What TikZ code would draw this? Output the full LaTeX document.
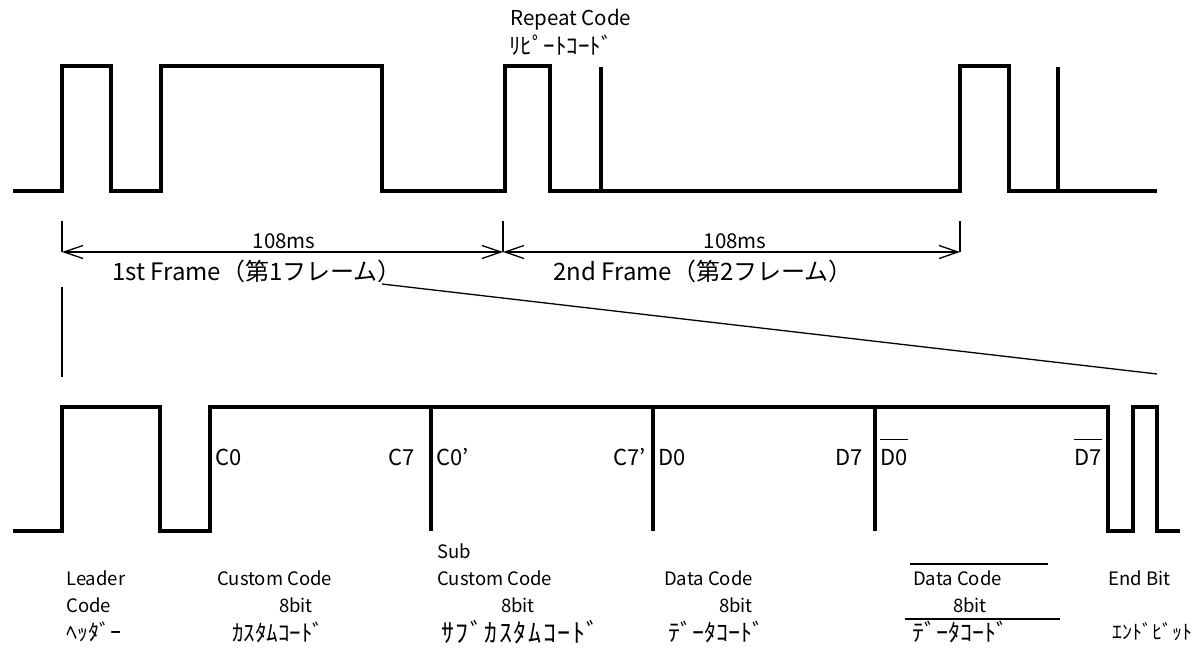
\documentclass[tikz,border=0pt]{standalone}
\usepackage{fontspec}
\newfontfamily\jp{Noto Sans CJK JP}
\newfontfamily\jpwide[LetterSpace=6]{Noto Sans CJK JP}
\usetikzlibrary{arrows.meta}

\begin{document}
\begin{tikzpicture}[
x=1pt, y=-1pt,
sig/.style={line width=4pt},
dimline/.style={line width=1.3pt},
toplbl/.style={font=\jp\fontsize{20.5}{20.5}\selectfont, inner sep=0pt},
framelbl/.style={font=\jp\fontsize{24}{24}\selectfont, inner sep=0pt},
bitlbl/.style={font=\jp\fontsize{22}{22}\selectfont, inner sep=0pt},
lbl/.style={font=\jp\fontsize{18.5}{18.5}\selectfont, inner sep=0pt, anchor=west},
>={Straight Barb[length=19pt,width=13pt]}
]
\useasboundingbox (0,0) rectangle (1202,656);

\def\hi{66}
\def\lo{191}
\def\bhi{407}
\def\blo{531}

%%% upper train
\draw[sig] (13,\lo) -| (62,\hi) -| (111,\lo) -| (161,\hi) -| (382,\lo) -| (505,\hi) -| (550,\lo) -| (960,\hi) -| (1009,\lo) -- (1157,\lo);
\foreach \x in {601,1058}
	\draw[sig] (\x,\lo) -- (\x,\hi+1);

\node[toplbl, anchor=west] (rep) at (510,20) {Repeat Code};
\node[toplbl, anchor=west, font=\jp\fontsize{23}{23}\selectfont] (repj) at (509,45) {ﾘﾋﾟｰﾄｺｰﾄﾞ};

%%% frame lengths
\coordinate (f0) at (62,252);
\coordinate (f1) at (503,252);
\coordinate (f2) at (960,252);
\foreach \c in {f0,f1,f2}
	\draw[dimline] (\c) -- ++(0,-31);
\draw[dimline,<->] (f0) -- (f1);
\draw[dimline,<->] (f1) -- (f2);
\node[toplbl, anchor=south] (t1) at (284,249) {108ms};
\node[toplbl, anchor=south] (t2) at (735,249) {108ms};
\node[framelbl] (fr1) at (257,271) {1st Frame（第1フレーム）};
\node[framelbl] (fr2) at (703,271) {2nd Frame（第2フレーム）};

%%% zoom lines
\coordinate (z0) at (62,287);
\coordinate (z1) at (382,284);
\coordinate (z2) at (1157,374);
\draw[dimline] (z0) -- ++(0,90);
\draw[dimline] (z1) -- (z2);

%%% lower train
\draw[sig] (13,\blo) -| (62,\bhi) -| (160,\blo) -| (210,\bhi) -| (1108,\blo) -| (1133,\bhi) -| (1157,\blo) -- (1180,\blo);
\foreach \x in {431,653,875}
	\draw[sig] (\x,\bhi) -- (\x,\blo);

%%% bits
\foreach \x/\side/\txt [count=\i] in {215/west/C0, 415/east/C7, 436/west/C0’, 646/east/C7’, 658/west/D0, 863/east/D7, 880/west/D0, 1102/east/D7}
	\node[bitlbl, anchor=base \side] (b\i) at (\x,465) {\txt};
\foreach \i in {7,8}
	\draw[dimline] ([yshift=9pt]b\i.north west) -- ([yshift=9pt]b\i.north east);

%%% names
\foreach \x/\y/\txt [count=\i] in {
	66/578/Leader, 66/605/Code,
	217/578/Custom Code,
	437/551/Sub, 437/578/Custom Code,
	664/578/Data Code,
	913/578/Data Code,
	1108/578/End Bit}
	\node[lbl] (n\i) at (\x,\y) {\txt};

\foreach \x/\txt [count=\i] in {296/8bit, 518/8bit, 736/8bit, 970/8bit}
	\node[lbl, anchor=center] (e\i) at (\x,605) {\txt};

\foreach \x/\fs/\txt [count=\i] in {
	66/22/ﾍｯﾀﾞｰ, 232/23/ｶｽﾀﾑｺｰﾄﾞ, 668/24/ﾃﾞｰﾀｺｰﾄﾞ, 912/24/ﾃﾞｰﾀｺｰﾄﾞ, 1112/20/ｴﾝﾄﾞﾋﾞｯﾄ}
	\node[lbl, font=\jp\fontsize{\fs}{\fs}\selectfont] (k\i) at (\x,632) {\txt};
\node[lbl, font=\jpwide\fontsize{26}{26}\selectfont] (k6) at (441,632) {ｻﾌﾞｶｽﾀﾑｺｰﾄﾞ};

\coordinate (ov0) at (910,564);
\coordinate (ov1) at (1048,564);
\coordinate (un0) at (905,619);
\coordinate (un1) at (1060,619);
\draw[dimline] (ov0) -- (ov1);
\draw[dimline] (un0) -- (un1);

\end{tikzpicture}
\end{document}
